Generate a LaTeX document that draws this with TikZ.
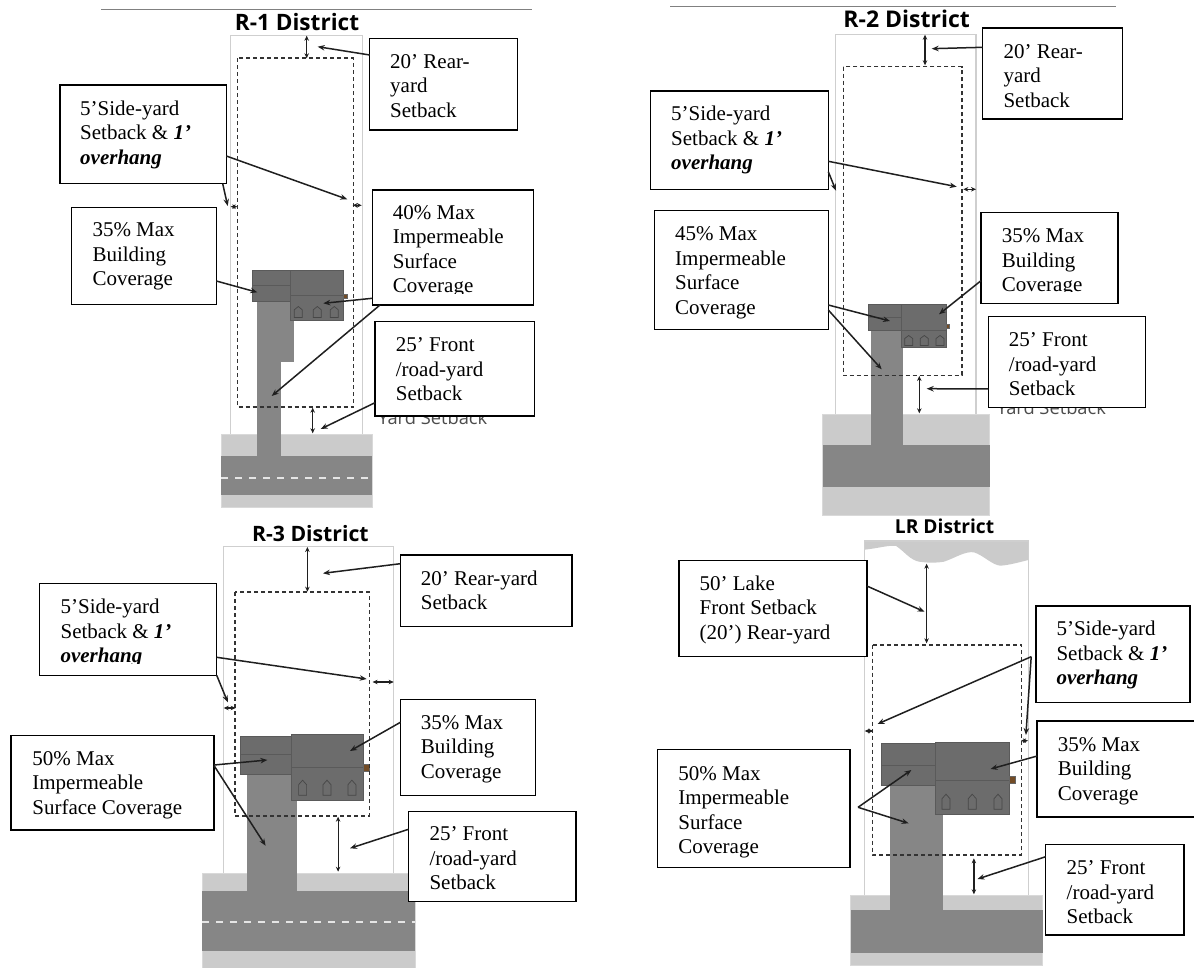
\documentclass[tikz,border=0pt]{standalone}
\usepackage{fontspec}
\setmainfont{Liberation Serif}
\newfontfamily\titlefont{Open Sans}
\usetikzlibrary{arrows.meta}
\definecolor{walk}{HTML}{CBCBCB}
\definecolor{pave}{HTML}{868686}
\definecolor{roofA}{HTML}{6C6C6C}
\definecolor{roofB}{HTML}{5A5A5A}
\definecolor{lotline}{HTML}{CFCFCF}
\tikzset{
  topline/.style={draw=black!50,line width=1.2pt},
  titletext/.style={font=\titlefont\bfseries\fontsize{#1}{24}\selectfont,inner sep=0pt},
  lot/.style={draw=lotline,line width=1.4pt},
  envelope/.style={draw=black!80,line width=1.6pt,dash pattern=on 4pt off 3pt},
  walkfill/.style={fill=walk,draw=black!15,line width=.5pt},
  pavefill/.style={fill=pave},
  centre/.style={draw=white!90!black,line width=1.3pt,dash pattern=on 7pt off 7pt},
  roof/.style={fill=roofA,draw=roofB,line width=.8pt},
  ridge/.style={draw=roofB,line width=.8pt},
  dormerline/.style={draw=black!72,fill=roofA,line width=.7pt},
  doorpart/.style={fill=brown!60!black,draw=black!60,line width=.5pt},
  callout/.style={draw=black,fill=white,line width=1.5pt,anchor=north west,inner sep=0pt,outer sep=0pt},
  lbl/.style={anchor=north west,inner sep=0pt,align=left,yshift=17.15pt,
    font=\fontsize{21}{24.5}\selectfont},
  hidden/.style={anchor=base west,inner sep=0pt,text=black!70,
    font=\titlefont\fontsize{18.3}{20}\selectfont},
  conn/.style={draw=black!88,line width=1.5pt,-{Stealth[length=7pt,width=5.5pt]}},
  dim/.style={draw=black!88,line width=1.2pt,{Stealth[length=5pt,width=4.5pt]}-{Stealth[length=5pt,width=4.5pt]}},
}
\newcommand\cbox[5]{\node[callout,minimum width={(#4-#2)*1pt},minimum height={(#5-#3)*1pt}] (#1) at (#2,#3) {};}
\newcommand\dormer[3]{\draw[dormerline] (#1-4,#2+#3/2) -- (#1-4,#2-#3/5) -- (#1,#2-#3/2) -- (#1+4,#2-#3/5) -- (#1+4,#2+#3/2) -- cycle;}
\newcommand\ovh{Setback \& \textbf{\textit{1’}}}
\newcommand\ovhb{\textbf{\textit{overhang}}}
\begin{document}
\begin{tikzpicture}[x=1pt,y=-1pt]
\useasboundingbox (0,0) rectangle (1194,968);
\clip (0,0) rectangle (1194,968);
\fill[white] (0,0) rectangle (1194,968);

%% ---------- R-1 ----------
\coordinate (p1a) at (101,9.5); \coordinate (p1b) at (532,9.5);
\draw[topline] (p1a) -- (p1b);
\node[titletext=22.6] (t1) at (297,22) {R-1 District};
\draw[lot] (230.7,434) |- (362.7,35.7) -- (362.7,434);
\fill[walkfill] (221,434.3) rectangle (372,507);
\fill[pavefill] (221,456) rectangle (372,495);
\draw[centre] (221,478) -- (372,478);
\fill[pavefill] (256.7,300) rectangle (281,457);
\fill[pavefill] (256.7,300) rectangle (294.3,361.7);
\filldraw[roof] (252.3,270.7) rectangle (290.7,301);
\draw[ridge] (252.3,285.3) -- (290.7,285.3);
\filldraw[roof] (290.7,270) rectangle (343.3,320.7);
\draw[ridge] (290.7,295) -- (343.3,295);
\dormer{298.3}{312}{11}\dormer{317.3}{312}{11}\dormer{334.3}{312}{11}
\filldraw[doorpart] (343,294) rectangle (347,298);
\draw[envelope] (237.3,58.3) rectangle (353.3,407);
\coordinate (d1a) at (306.7,35.7); \coordinate (d1b) at (306.7,58.3); \draw[dim] (d1a) -- (d1b);
\coordinate (d1c) at (312.7,407.7); \coordinate (d1d) at (312.7,433.3); \draw[dim] (d1c) -- (d1d);
\coordinate (d1e) at (230.7,206.7); \coordinate (d1f) at (237.3,206.7); \draw[dim] (d1e) -- (d1f);
\coordinate (d1g) at (352.7,205.3); \coordinate (d1h) at (361.7,205.3); \draw[dim] (d1g) -- (d1h);
\node[hidden] (y1) at (378,424) {Yard Setback};
\cbox{b1rear}{369.7}{38.3}{517.3}{130}
\cbox{b1side}{60}{85}{226.3}{183.7}
\cbox{b1bld}{71.7}{207.3}{216.3}{304.7}
\cbox{b1imp}{372.3}{190}{533.3}{305}
\cbox{b1front}{375}{321.7}{534.7}{416}
\node[lbl] (l1rear) at (390,68.3) {\strut 20’ Rear-\\yard\\Setback};
\node[lbl] (l1side) at (80,115) {\strut 5’Side-yard\\\ovh\\\ovhb};
\node[lbl] (l1bld) at (92.3,236.7) {\strut 35\% Max\\Building\\Coverage};
\begin{scope}
\clip (372,190) rectangle (533,293.6);
\node[lbl] (l1imp) at (392.7,219.3) {\strut 40\% Max\\Impermeable\\Surface\\Coverage};
\end{scope}
\node[lbl] (l1front) at (395.7,351.7) {\strut 25’ Front\\/road-yard\\Setback};
\coordinate (e1a) at (317.7,46.7); \draw[conn] (b1rear.west |- 0,55) -- (e1a);
\coordinate (e1b) at (347.3,199.3); \draw[conn] (b1side.east |- 0,156) -- (e1b);
\coordinate (e1c) at (227.7,206); \draw[conn] (222.7,0 |- b1side.south) -- (e1c);
\coordinate (e1d) at (257.3,292.3); \draw[conn] (b1bld.east |- 0,281) -- (e1d);
\coordinate (e1e) at (323.3,303.3); \draw[conn] (b1imp.west |- 0,298.3) -- (e1e);
\coordinate (e1f) at (271.7,396); \draw[conn] (380,0 |- b1imp.south) -- (e1f);
\coordinate (e1g) at (320.7,429); \draw[conn] (b1front.west |- 0,402.7) -- (e1g);

%% ---------- R-2 ----------
\coordinate (p2a) at (670,6.7); \coordinate (p2b) at (1116,6.7);
\draw[topline] (p2a) -- (p2b);
\node[titletext=23] (t2) at (906.7,19.3) {R-2 District};
\draw[lot] (835.7,414.3) |- (976,34.7) -- (976,414.3);
\fill[walkfill] (822.7,414.3) rectangle (989.7,515);
\fill[pavefill] (822.7,445) rectangle (989.7,486.7);
\fill[pavefill] (871,325) rectangle (903,446);
\filldraw[roof] (868.7,304) rectangle (901.7,330);
\draw[ridge] (868.7,317.3) -- (901.7,317.3);
\filldraw[roof] (901.7,304) rectangle (946.7,347.7);
\draw[ridge] (901.7,330.7) -- (946.7,330.7);
\dormer{908.7}{340.5}{10}\dormer{924.3}{340.5}{10}\dormer{940}{340.5}{10}
\filldraw[doorpart] (946,324) rectangle (949,328);
\draw[envelope] (843.3,66.7) rectangle (961.7,375.3);
\coordinate (d2a) at (925,34.7); \coordinate (d2b) at (925,65.3); \draw[dim] (d2a) -- (d2b);
\coordinate (d2c) at (919.3,376); \coordinate (d2d) at (919.3,413.3); \draw[dim] (d2c) -- (d2d);
\coordinate (d2e) at (963.3,189.3); \coordinate (d2f) at (976,189.3); \draw[dim] (d2e) -- (d2f);
\node[hidden] (y2) at (996.7,414.3) {Yard Setback};
\cbox{b2rear}{982.7}{28}{1122.3}{119}
\cbox{b2side}{650.7}{91}{828.3}{189.7}
\cbox{b2imp}{654.3}{210.3}{828.3}{329.7}
\cbox{b2bld}{981}{212.7}{1118}{303.3}
\cbox{b2front}{988.3}{316.7}{1145.7}{407.3}
\node[lbl] (l2rear) at (1003.3,58.3) {\strut 20’ Rear-\\yard\\Setback};
\node[lbl] (l2side) at (671,120.7) {\strut 5’Side-yard\\\ovh\\\ovhb};
\node[lbl] (l2imp) at (675,240.7) {\strut 45\% Max\\Impermeable\\Surface\\Coverage};
\begin{scope}
\clip (981,212) rectangle (1118,291.7);
\node[lbl] (l2bld) at (1001.7,242.7) {\strut 35\% Max\\Building\\Coverage};
\end{scope}
\node[lbl] (l2front) at (1008.7,346.7) {\strut 25’ Front\\/road-yard\\Setback};
\coordinate (e2a) at (931.7,48.7); \draw[conn] (b2rear.west |- 0,47.3) -- (e2a);
\coordinate (e2b) at (956.7,186.7); \draw[conn] (b2side.east |- 0,161.3) -- (e2b);
\coordinate (e2c) at (836,190.7); \draw[conn] (b2side.east |- 0,171.7) -- (e2c);
\coordinate (e2d) at (890,321); \draw[conn] (b2imp.east |- 0,305) -- (e2d);
\coordinate (e2e) at (881.7,369.3); \draw[conn] (b2imp.east |- 0,310) -- (e2e);
\coordinate (e2f) at (939,314.3); \draw[conn] (b2bld.west |- 0,280.7) -- (e2f);
\coordinate (e2g) at (926.7,388.7); \draw[conn] (b2front.west |- 0,389) -- (e2g);

%% ---------- R-3 ----------
\node[titletext=21.2] (t3) at (310.4,534) {R-3 District};
\draw[lot] (223.7,873.3) |- (393.7,546.3) -- (393.7,873.3);
\fill[walkfill] (201.9,873.3) rectangle (414.8,968);
\fill[pavefill] (201.9,890.7) rectangle (414.8,951);
\draw[centre] (201.9,922) -- (414.8,922);
\fill[pavefill] (247,770) rectangle (297,892);
\filldraw[roof] (240.7,736.7) rectangle (291.5,774);
\draw[ridge] (240.7,754.3) -- (291.5,754.3);
\filldraw[roof] (291.5,734.7) rectangle (363.7,800);
\draw[ridge] (291.5,767.3) -- (363.7,767.3);
\dormer{302.6}{787.7}{15}\dormer{327}{787.7}{15}\dormer{351.9}{787.7}{15}
\filldraw[doorpart] (362.9,764.5) rectangle (368.9,771);
\draw[envelope] (234.8,592) rectangle (369.3,815.7);
\coordinate (d3a) at (307.4,547); \coordinate (d3b) at (307.4,591.7); \draw[dim] (d3a) -- (d3b);
\coordinate (d3c) at (338.1,816.7); \coordinate (d3d) at (338.1,871.7); \draw[dim] (d3c) -- (d3d);
\coordinate (d3e) at (223.7,708); \coordinate (d3f) at (235.6,708); \draw[dim] (d3e) -- (d3f);
\coordinate (d3g) at (372.6,682); \coordinate (d3h) at (393.7,682); \draw[dim] (d3g) -- (d3h);
\cbox{b3rear}{400.4}{555}{571.9}{626.3}
\cbox{b3side}{39.6}{583.7}{216.7}{675.3}
\cbox{b3imp}{11.1}{735.3}{214.1}{830}
\cbox{b3bld}{400.4}{699.7}{535.6}{795.7}
\cbox{b3front}{408.5}{811.3}{575.9}{901.7}
\node[lbl] (l3rear) at (420.7,585) {\strut 20’ Rear-yard\\Setback};
\begin{scope}
\clip (39,584) rectangle (217,663.4);
\node[lbl] (l3side) at (60.4,613.3) {\strut 5’Side-yard\\\ovh\\\ovhb};
\end{scope}
\node[lbl] (l3imp) at (32.2,765) {\strut 50\% Max\\Impermeable\\Surface Coverage};
\node[lbl] (l3bld) at (420.7,729) {\strut 35\% Max\\Building\\Coverage};
\node[lbl] (l3front) at (429.3,840.7) {\strut 25’ Front\\/road-yard\\Setback};
\coordinate (e3a) at (323,573.3); \draw[conn] (b3rear.west |- 0,563.7) -- (e3a);
\coordinate (e3b) at (366.7,679); \draw[conn] (b3side.east |- 0,657.3) -- (e3b);
\coordinate (e3c) at (227.8,702.3); \draw[conn] (b3side.south east) -- (e3c);
\coordinate (e3d) at (267.4,760); \draw[conn] (b3imp.east |- 0,765) -- (e3d);
\coordinate (e3e) at (265.6,845.7); \draw[conn] (b3imp.east |- 0,765.7) -- (e3e);
\coordinate (e3f) at (350,751); \draw[conn] (b3bld.west |- 0,722.3) -- (e3f);
\coordinate (e3g) at (350,848.3); \draw[conn] (b3front.west |- 0,829.3) -- (e3g);

%% ---------- LR ----------
\node[titletext=19.2] (t4) at (944.6,526.7) {LR District};
\fill[walk] (864.4,541) -- (864.4,549.7) .. controls (880,548) and (888,545) .. (896.2,546)
  .. controls (905,552) and (910,560) .. (919.2,561.7) .. controls (930,563) and (935,563) .. (943.9,561.7)
  .. controls (955,558) and (965,551) .. (973.9,552.3) .. controls (983,555) and (992,565) .. (1000.4,565.7)
  .. controls (1010,565) and (1020,562) .. (1028.3,560) -- (1028.3,541) -- cycle;
\draw[lot] (864.4,895) |- (1028.3,541) -- (1028.3,895);
\fill[walkfill] (850.6,895.7) rectangle (1042.5,965);
\fill[pavefill] (850.6,910) rectangle (1042.5,953.3);
\fill[pavefill] (889.8,780) rectangle (943.2,911);
\filldraw[roof] (881,743.7) rectangle (935,785);
\draw[ridge] (881,765) -- (935,765);
\filldraw[roof] (935,742.3) rectangle (1009.3,814.3);
\draw[ridge] (935,780) -- (1009.3,780);
\dormer{946}{801.7}{15}\dormer{972.2}{801.7}{15}\dormer{998}{801.7}{15}
\filldraw[doorpart] (1009,776) rectangle (1015.5,783);
\draw[envelope] (872.5,644.7) rectangle (1021.3,855);
\coordinate (d4a) at (926.6,563.7); \coordinate (d4b) at (926.6,643.3); \draw[dim] (d4a) -- (d4b);
\coordinate (d4c) at (973.9,858.3); \coordinate (d4d) at (973.9,894.3); \draw[dim] (d4c) -- (d4d);
\coordinate (d4e) at (864.7,731); \coordinate (d4f) at (873.2,731); \draw[dim] (d4e) -- (d4f);
\coordinate (d4g) at (1021,740.7); \coordinate (d4h) at (1028,740.7); \draw[dim] (d4g) -- (d4h);
\cbox{b4lake}{678.9}{560.7}{866.9}{656.7}
\cbox{b4side}{1035.8}{606}{1190.2}{702.7}
\cbox{b4imp}{657.7}{749.7}{849.9}{867.3}
\cbox{b4bld}{1037.2}{721}{1200}{817}
\cbox{b4front}{1045.7}{844.3}{1184.2}{935}
\node[lbl] (l4lake) at (699.4,590) {\strut 50’ Lake\\Front Setback\\(20’) Rear-yard};
\node[lbl] (l4side) at (1056.3,635.7) {\strut 5’Side-yard\\\ovh\\\ovhb};
\node[lbl] (l4imp) at (678.2,780) {\strut 50\% Max\\Impermeable\\Surface\\Coverage};
\node[lbl] (l4bld) at (1057.7,751) {\strut 35\% Max\\Building\\Coverage};
\node[lbl] (l4front) at (1066.5,874.3) {\strut 25’ Front\\/road-yard\\Setback};
\coordinate (e4a) at (924.5,611.7); \draw[conn] (b4lake.east |- 0,586) -- (e4a);
\coordinate (f4s) at (1031.2,656.7);
\coordinate (e4b) at (877.5,724); \draw[conn] (f4s) -- (e4b);
\coordinate (e4c) at (1025.9,735); \draw[conn] (f4s) -- (e4c);
\coordinate (f4i) at (858,807.3);
\coordinate (e4d) at (911.4,770); \draw[conn] (f4i) -- (e4d);
\coordinate (e4e) at (908.6,823.3); \draw[conn] (f4i) -- (e4e);
\coordinate (e4f) at (990.5,769); \draw[conn] (b4bld.west |- 0,756) -- (e4f);
\coordinate (e4g) at (977.5,879); \draw[conn] (b4front.west |- 0,856.7) -- (e4g);
\end{tikzpicture}
\end{document}
